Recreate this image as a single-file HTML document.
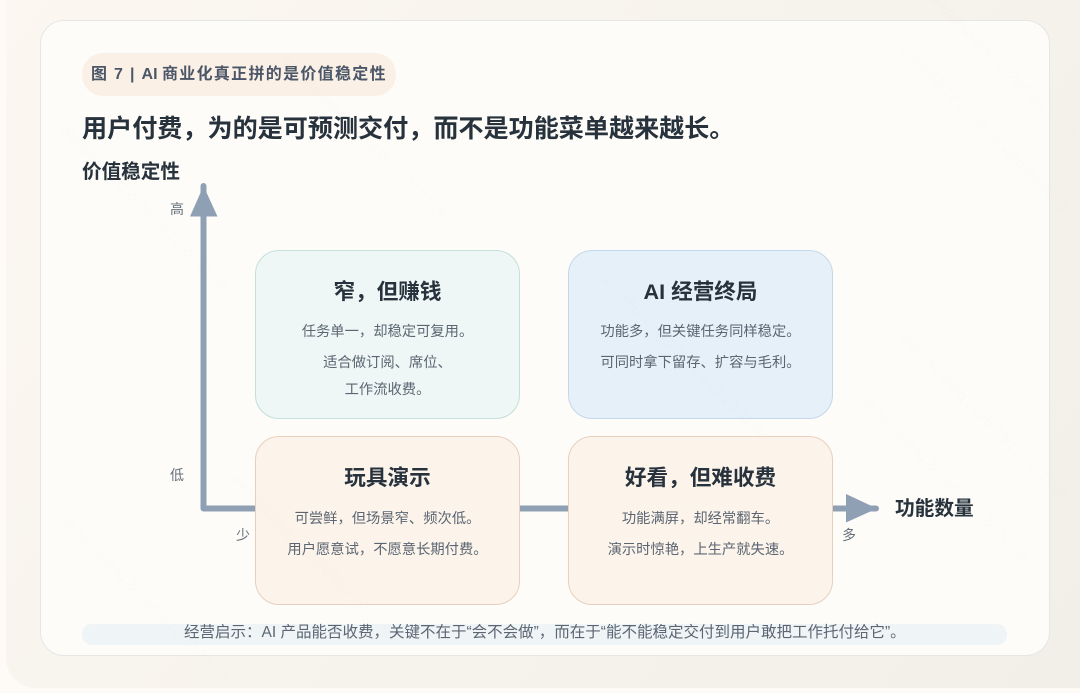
<!DOCTYPE html>
<html lang="zh"><head><meta charset="utf-8"><style>
html,body{margin:0;padding:0;width:1080px;height:693px;overflow:hidden;background:#fefbf6}
*{box-sizing:border-box}
body{position:relative;font-family:"Liberation Sans","Noto Sans CJK SC",sans-serif}
.a{position:absolute;white-space:nowrap}
#bg{left:6px;top:-30px;width:1100px;height:718px;border-radius:30px;background:linear-gradient(125deg,#fcf7f1 0%,#f7f3ed 45%,#f2eee8 100%)}
#card{left:40px;top:20px;width:1010px;height:636px;border-radius:24px;background:#fdfcf8;border:1px solid #e5e7e6}
#chip{left:82px;top:53px;width:314px;height:43px;border-radius:21px;background:#fbf0e5}
.q{position:absolute;width:265px;height:169px;border-radius:24px;border:1px solid;text-align:center}
.q h3{position:absolute;left:0;right:0;top:27px;margin:0;font-size:21.6px;line-height:28px;font-weight:700;color:#27323c}
.q p{position:absolute;left:0;right:0;margin:0;font-size:14.300px;line-height:20px;color:#5b6672}
.lb{font-size:14px;line-height:18px;color:#66707b}
.bt{font-weight:700;color:#27323c}
</style></head><body>
<div class="a" id="bg"></div>
<div class="a" id="card"></div>
<div class="a" id="chip"></div>
<div class="a" style="left:91px;top:65px;font-size:16px;line-height:20px;font-weight:700;color:#4b5768;letter-spacing:1.3px">图 7 | <span style="letter-spacing:0">AI </span>商业化真正拼的是价值稳定性</div>
<div class="a bt" style="left:82px;top:112px;font-size:25.100px;line-height:34px">用户付费，为的是可预测交付，而不是功能菜单越来越长。</div>
<div class="a bt" style="left:82px;top:159px;font-size:19.600px;line-height:26px">价值稳定性</div>
<svg class="a" style="left:0;top:0" width="1080" height="693">
<path d="M203.500 186V508.500H876" fill="none" stroke="#8fa0b4" stroke-width="6" stroke-linecap="round" stroke-linejoin="round"/>
<path d="M203.500 186L217.500 216.500H190Z" fill="#8fa0b4"/>
<path d="M846 494L877 508.500L846 522.500Z" fill="#8fa0b4"/>
</svg>
<div class="a lb" style="left:170px;top:200px">高</div>
<div class="a lb" style="left:170px;top:466px">低</div>
<div class="a lb" style="left:236px;top:526px">少</div>
<div class="a lb" style="left:842px;top:526px">多</div>
<div class="a bt" style="left:895px;top:495.500px;font-size:19.700px;line-height:27px">功能数量</div>

<div class="q" style="left:255px;top:250px;background:#eef7f6;border-color:#c3e0da">
<h3>窄，但赚钱</h3><p style="top:71px">任务单一，却稳定可复用。</p><p style="top:102px">适合做订阅、席位、</p><p style="top:129px">工作流收费。</p></div>
<div class="q" style="left:568px;top:250px;background:#e6f0f9;border-color:#c5d7ea">
<h3>AI 经营终局</h3><p style="top:71px">功能多，但关键任务同样稳定。</p><p style="top:102px">可同时拿下留存、扩容与毛利。</p></div>
<div class="q" style="left:255px;top:436px;background:#fcf3eb;border-color:#e9cfbd">
<h3>玩具演示</h3><p style="top:72px">可尝鲜，但场景窄、频次低。</p><p style="top:103px">用户愿意试，不愿意长期付费。</p></div>
<div class="q" style="left:568px;top:436px;background:#fcf3eb;border-color:#e9cfbd">
<h3>好看，但难收费</h3><p style="top:72px">功能满屏，却经常翻车。</p><p style="top:103px">演示时惊艳，上生产就失速。</p></div>

<div class="a" style="left:82px;top:624px;width:925px;height:21px;border-radius:10px;background:#eff4f7"></div>
<div class="a" style="left:184px;top:623px;font-size:15.500px;line-height:20px;color:#5b6672">经营启示：AI 产品能否收费，关键不在于“会不会做”，而在于“能不能稳定交付到用户敢把工作托付给它”。</div>
<svg class="a" style="left:0;top:0" width="1080" height="693">
<g font-family="Liberation Sans,Noto Sans CJK SC,sans-serif" font-size="15" fill="#8a8a80" opacity=".02">
<text transform="translate(930 0) rotate(45)">wenshuxiang 2026/03/12 20:32:06</text>
<text transform="translate(900 50) rotate(45)">2026/03/12 20:32:06 wenshuxiang</text>
<text transform="translate(900 340) rotate(45)">wenshuxiang 2026/03/12 20:32:06</text>
<text transform="translate(860 400) rotate(45)">wenshuxiang 2026/03/12 20:32:06</text>
<text transform="translate(600 280) rotate(45)">wenshuxiang 2026/03/12 20:32:06</text>
<text transform="translate(280 60) rotate(45)">wenshuxiang 2026/03/12 20:32:06</text>
<text transform="translate(60 130) rotate(45)">wenshuxiang 2026/03/12 20:32:06</text>
<text transform="translate(60 520) rotate(45)">wenshuxiang 2026/03/12 20:32:06</text>
<text transform="translate(230 480) rotate(45)">wenshuxiang 2026/03/12 20:32:06</text>
</g>
</svg>
</body></html>
